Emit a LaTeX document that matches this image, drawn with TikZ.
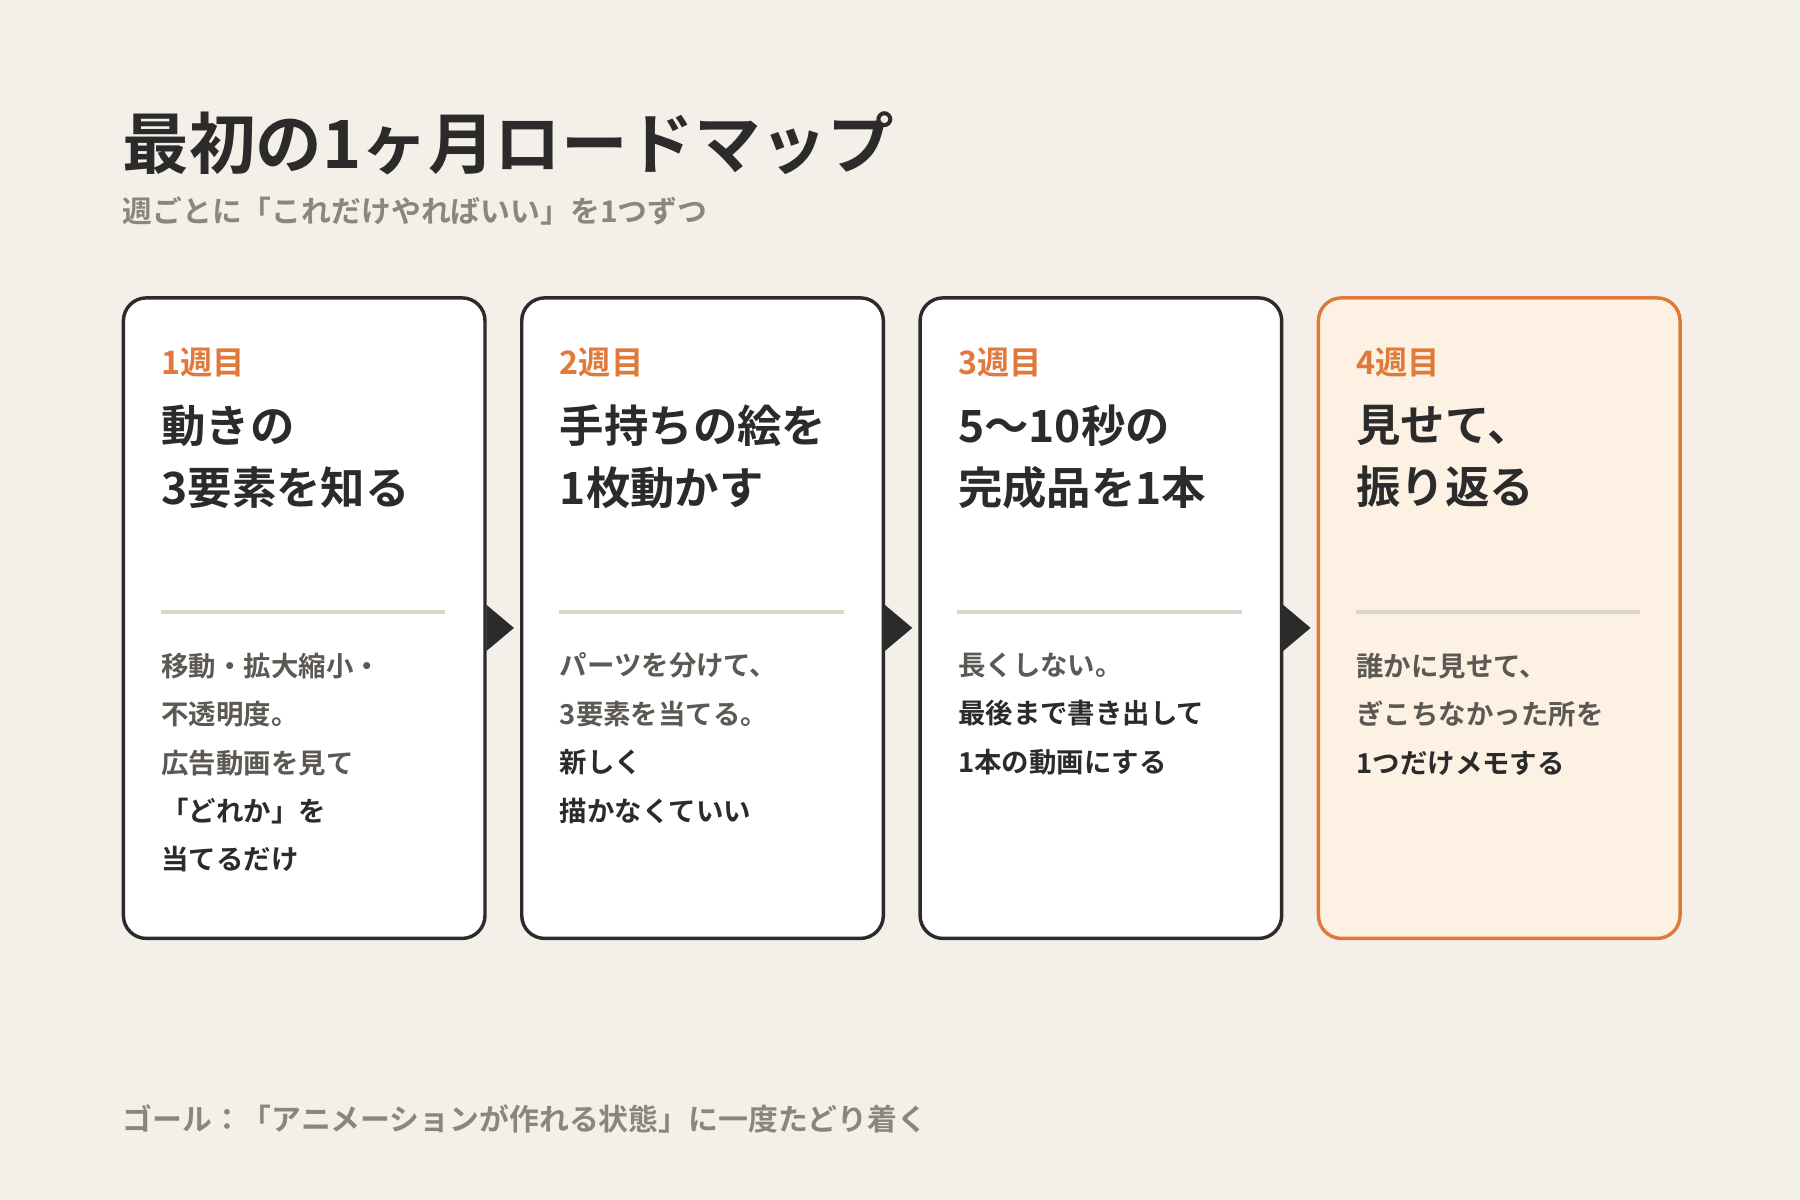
\documentclass[tikz,border=0pt]{standalone}
\usepackage{fontspec}
\setmainfont{Noto Sans CJK JP}[BoldFont={Noto Sans CJK JP Bold}]
\usepackage{tikz}
\usetikzlibrary{shapes.geometric}
\definecolor{bgcream}{HTML}{F4F0E9}
\definecolor{inkdark}{HTML}{2B2B2B}
\definecolor{inkgray}{HTML}{5C5853}
\definecolor{subgray}{HTML}{8C857C}
\definecolor{accent}{HTML}{E07A3C}
\definecolor{peach}{HTML}{FDF1E3}
\definecolor{ruleline}{HTML}{DCD6C8}
\newcommand{\emtext}[1]{\textcolor{inkdark}{#1}}

\begin{document}
\begin{tikzpicture}[x=0.1mm, y=-0.1mm]
    \tikzstyle{card} = [rectangle, rounded corners=2mm, minimum width=31.5mm, minimum height=55.8mm, draw=inkdark, line width=0.3mm, fill=white, inner sep=0pt]
    \tikzstyle{lastcard} = [card, draw=accent, fill=peach]
    \tikzstyle{week} = [anchor=west, inner sep=0pt, font=\bfseries\fontsize{8}{8}\selectfont, text=accent]
    \tikzstyle{head} = [anchor=north west, inner sep=0pt, align=left, font=\bfseries\fontsize{11}{15.4}\selectfont, text=inkdark]
    \tikzstyle{body} = [anchor=north west, inner sep=0pt, align=left, font=\bfseries\fontsize{6.8}{12}\selectfont, text=inkgray]
    \tikzstyle{divider} = [draw=ruleline, line width=0.4mm]
    \tikzstyle{nextstep} = [isosceles triangle, isosceles triangle apex angle=80, fill=inkdark, inner sep=0pt, minimum height=2.4mm, minimum width=4mm]

    \fill[bgcream] (0,0) rectangle (1568,1045);

    % Title
    \node [anchor=west, inner sep=0pt, font=\bfseries\fontsize{16.5}{16.5}\selectfont, text=inkdark] (title) at (106,125) {最初の1ヶ月ロードマップ};
    \node [anchor=west, inner sep=0pt, font=\bfseries\fontsize{7.4}{7.4}\selectfont, text=subgray] (subtitle) at (106,184) {週ごとに「これだけやればいい」を1つずつ};

    % Cards
    \node [card, anchor=north west] (card1) at (106,258) {};
    \node [card, anchor=north west] (card2) at (453,258) {};
    \node [card, anchor=north west] (card3) at (800,258) {};
    \node [lastcard, anchor=north west] (card4) at (1147,258) {};

    % Week 1
    \node [week] (week1) at (140,316) {1週目};
    \node [head] (head1) at (140,352) {動きの\\3要素を知る};
    \draw [divider] (140,533) -- (388,533);
    \node [body] (body1) at (140,568) {移動・拡大縮小・\\不透明度。\\広告動画を見て\\\emtext{「どれか」を}\\\emtext{当てるだけ}};

    % Week 2
    \node [week] (week2) at (487,316) {2週目};
    \node [head] (head2) at (487,352) {手持ちの絵を\\1枚動かす};
    \draw [divider] (487,533) -- (735,533);
    \node [body] (body2) at (487,568) {パーツを分けて、\\3要素を当てる。\\\emtext{新しく}\\\emtext{描かなくていい}};

    % Week 3
    \node [week] (week3) at (834,316) {3週目};
    \node [head] (head3) at (834,352) {5〜10秒の\\完成品を1本};
    \draw [divider] (834,533) -- (1082,533);
    \node [body] (body3) at (834,568) {長くしない。\\\emtext{最後まで書き出して}\\\emtext{1本の動画にする}};

    % Week 4
    \node [week] (week4) at (1181,316) {4週目};
    \node [head] (head4) at (1181,352) {見せて、\\振り返る};
    \draw [divider] (1181,533) -- (1429,533);
    \node [body] (body4) at (1181,568) {誰かに見せて、\\ぎこちなかった所を\\\emtext{1つだけメモする}};

    % Steps between cards
    \node [nextstep, anchor=west] (step1) at (423,547) {};
    \node [nextstep, anchor=west] (step2) at (770,547) {};
    \node [nextstep, anchor=west] (step3) at (1117,547) {};

    % Goal
    \node [anchor=west, inner sep=0pt, font=\bfseries\fontsize{7.4}{7.4}\selectfont, text=subgray] (goal) at (106,975) {ゴール：「アニメーションが作れる状態」に一度たどり着く};
\end{tikzpicture}
\end{document}
